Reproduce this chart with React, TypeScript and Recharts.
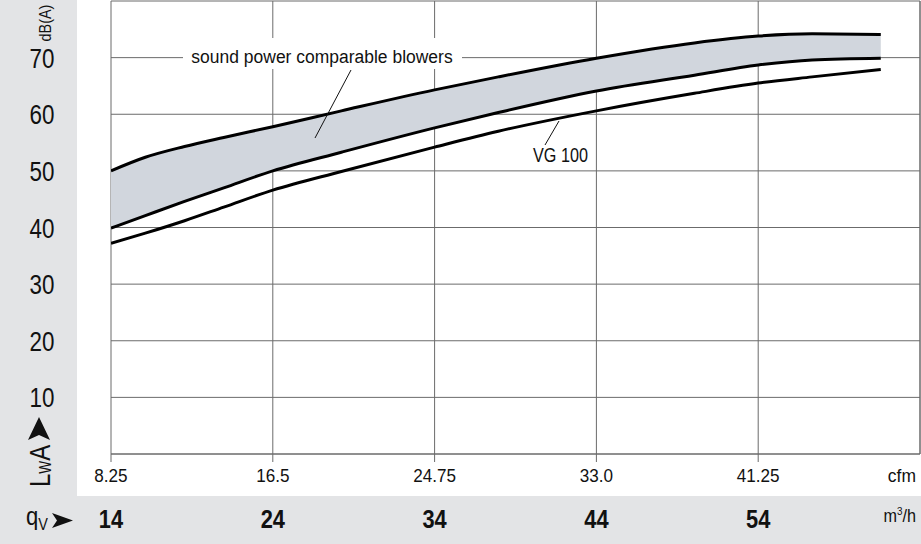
import React from 'react';
import { ComposedChart, Area, Line, XAxis, YAxis, CartesianGrid, ReferenceLine } from 'recharts';

const cfmPoints = [8.25, 10, 12, 14, 16.5, 20, 24.75, 28, 33, 38, 41.25, 44, 47.5];
// band of comparable blowers (upper / lower edge), dB(A)
const comparableHigh = [50.0, 52.4, 54.3, 55.9, 57.8, 60.6, 64.3, 66.6, 69.9, 72.6, 73.8, 74.2, 74.1];
const comparableLow = [39.9, 42.1, 44.6, 47.0, 50.0, 53.3, 57.6, 60.3, 64.1, 66.9, 68.7, 69.6, 69.9];
// VG 100
const vg100 = [37.2, 39.0, 41.2, 43.6, 46.6, 49.9, 54.2, 57.0, 60.6, 63.7, 65.5, 66.6, 67.9];

const cfmTicks = [8.25, 16.5, 24.75, 33, 41.25];
const cfmLabels = ['8.25', '16.5', '24.75', '33.0', '41.25'];
const m3hLabels = ['14', '24', '34', '44', '54'];
const dbTicks = [0, 10, 20, 30, 40, 50, 60, 70, 80];

const FONT = "'Liberation Sans', Arial, sans-serif";
const PANEL = '#e3e4e6';
const GRID = '#6b6b6b';

const data = cfmPoints.map((cfm, i) => ({
  cfm,
  high: comparableHigh[i],
  low: comparableLow[i],
  band: [comparableLow[i], comparableHigh[i]],
  vg: vg100[i],
}));

// condensed-looking text: horizontally squeezed Liberation Sans
function NText({ x, y, size, sx = 0.85, anchor = 'start', weight = 'normal', children }: any) {
  return (
    <text
      transform={`translate(${x},${y}) scale(${sx},1)`}
      textAnchor={anchor}
      fontSize={size}
      fontWeight={weight}
      fontFamily={FONT}
      fill="#111"
    >
      {children}
    </text>
  );
}

function XTick(props: any) {
  const { x, payload, index } = props;
  const i = index ?? cfmTicks.indexOf(payload.value);
  return (
    <g>
      <NText x={x} y={482} size={19} sx={0.9} anchor="middle">{cfmLabels[i]}</NText>
      <NText x={x} y={528} size={26} sx={0.84} anchor="middle" weight="bold">{m3hLabels[i]}</NText>
    </g>
  );
}

function YTick(props: any) {
  const { y, payload } = props;
  if (payload.value === 0 || payload.value === 80) return null;
  return <NText x={42} y={y + 10} size={28} sx={0.8} anchor="middle">{payload.value}</NText>;
}

export default function App() {
  return (
    <div style={{ position: 'relative', width: 921, height: 544, background: PANEL, overflow: 'hidden' }}>
      <style>{'body{margin:0}'}</style>
      <div style={{ position: 'absolute', left: 77, top: 0, width: 844, height: 496, background: '#fff' }} />
      <div style={{ position: 'absolute', left: 0, top: 0 }}>
        <ComposedChart width={921} height={544} data={data} margin={{ top: 1, right: 1, left: 0, bottom: 60 }}>
          <CartesianGrid stroke={GRID} strokeWidth={1} />
          <XAxis
            dataKey="cfm"
            type="number"
            domain={[8.25, 49.5]}
            ticks={cfmTicks}
            allowDataOverflow
            height={30}
            tickSize={8}
            stroke={GRID}
            tick={<XTick />}
            interval={0}
          />
          <YAxis
            type="number"
            domain={[0, 80]}
            ticks={dbTicks}
            width={111}
            axisLine={false}
            tickLine={false}
            tick={<YTick />}
            interval={0}
          />
          <ReferenceLine x={49.5} stroke={GRID} />
          <Area dataKey="band" type="monotone" fill="#d1d6dd" fillOpacity={1} stroke="none" isAnimationActive={false} />
          <Line dataKey="high" type="monotone" stroke="#000" strokeWidth={3} dot={false} isAnimationActive={false} />
          <Line dataKey="low" type="monotone" stroke="#000" strokeWidth={3} dot={false} isAnimationActive={false} />
          <Line dataKey="vg" type="monotone" stroke="#000" strokeWidth={3} dot={false} isAnimationActive={false} />
        </ComposedChart>
      </div>

      {/* labels and annotations */}
      <svg width={921} height={544} style={{ position: 'absolute', left: 0, top: 0, pointerEvents: 'none' }}>
        <g transform="translate(51,23) rotate(-90)">
          <NText x={0} y={0} size={16} sx={0.9} anchor="middle">dB(A)</NText>
        </g>

        <g transform="translate(50,487) rotate(-90)">
          <NText x={0} y={0} size={30} sx={0.8}>
            L<tspan fontSize={17} dy={1}>W</tspan><tspan fontSize={30} dy={-1}>A</tspan>
          </NText>
          <polygon points="70,-11 47,-22 52,-11 47,0" fill="#111" />
        </g>

        <NText x={26} y={525} size={26} sx={0.85}>
          q<tspan fontSize={17} dy={5}>V</tspan>
        </NText>
        <polygon points="73,520.5 52,513 57,520.5 52,528" fill="#111" />

        <NText x={916} y={482} size={19} sx={0.92} anchor="end">cfm</NText>
        <NText x={916} y={522} size={18} sx={0.9} anchor="end">
          m<tspan fontSize={11} dy={-7}>3</tspan><tspan fontSize={18} dy={7}>/h</tspan>
        </NText>

        <rect x={183} y={38} width={279} height={31} fill="#fff" />
        <NText x={322} y={63} size={19} sx={0.92} anchor="middle">sound power comparable blowers</NText>
        <line x1={351} y1={70} x2={315} y2={138} stroke="#111" strokeWidth={1} />

        <NText x={533} y={162} size={20} sx={0.81}>VG 100</NText>
        <line x1={559} y1={121} x2={545} y2={145} stroke="#111" strokeWidth={1} />
      </svg>
    </div>
  );
}
